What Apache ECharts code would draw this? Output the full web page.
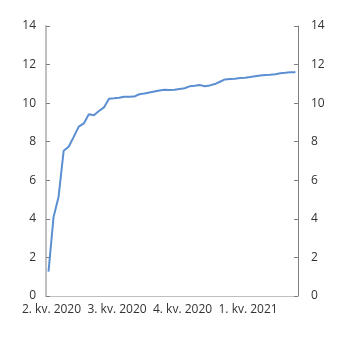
<!DOCTYPE html>
<html>
<head>
<meta charset="utf-8">
<style>
  html, body { margin: 0; padding: 0; background: #fff; }
  #chart { width: 345px; height: 341px; }
</style>
<script src="https://cdn.jsdelivr.net/npm/echarts@6/dist/echarts.min.js"></script>
</head>
<body>
<div id="chart"></div>
<script>
// Weekly observations, week 14 of 2020 onwards
const weeks = [];
for (let w = 14; w <= 53; w++) weeks.push('2020-U' + w);
for (let w = 1; w <= 10; w++) weeks.push('2021-U' + w);

const values = [
  1.26, 4.1, 5.15, 7.53, 7.74, 8.25, 8.78, 8.95, 9.42, 9.37,
  9.59, 9.78, 10.23, 10.25, 10.28, 10.33, 10.33, 10.34, 10.46, 10.5,
  10.55, 10.6, 10.65, 10.7, 10.68, 10.69, 10.73, 10.77, 10.87, 10.9,
  10.94, 10.88, 10.92, 10.99, 11.11, 11.23, 11.25, 11.27, 11.3, 11.32,
  11.35, 11.39, 11.43, 11.46, 11.47, 11.5, 11.55, 11.57, 11.6, 11.6
];

// Quarter labels placed at the first week of each quarter
const quarterLabels = { 0: '2. kv. 2020', 13: '3. kv. 2020', 26: '4. kv. 2020', 39: '1. kv. 2021' };

const yTicks = { min: 0, max: 14, interval: 2 };

const font = { fontFamily: 'Open Sans', fontSize: 12, color: '#333' };

const chart = echarts.init(document.getElementById('chart'), null, { renderer: 'canvas' });
chart.setOption({
  animation: false,
  backgroundColor: '#fff',
  grid: { left: 46, right: 47, top: 26, bottom: 45 },
  xAxis: {
    type: 'category',
    data: weeks,
    boundaryGap: true,
    axisLine: { show: true, lineStyle: { color: '#bfbfbf', width: 1 } },
    axisTick: { show: false },
    axisLabel: Object.assign({}, font, {
      interval: (i) => quarterLabels[i] !== undefined,
      formatter: (v, i) => quarterLabels[i] || '',
      margin: 8,
      padding: [0, 0, 0, 6]
    }),
    splitLine: { show: false }
  },
  yAxis: [
    {
      type: 'value',
      position: 'left',
      min: yTicks.min, max: yTicks.max, interval: yTicks.interval,
      axisLine: { show: true, lineStyle: { color: '#c0c0c0', width: 2 } },
      axisTick: { show: true, inside: true, length: 4, lineStyle: { color: '#808080', width: 1 } },
      axisLabel: Object.assign({}, font, { margin: 10 }),
      splitLine: { show: false }
    },
    {
      type: 'value',
      position: 'right',
      min: yTicks.min, max: yTicks.max, interval: yTicks.interval,
      axisLine: { show: true, lineStyle: { color: '#808080', width: 1 } },
      axisTick: { show: true, inside: true, length: 4, lineStyle: { color: '#808080', width: 1 } },
      axisLabel: Object.assign({}, font, { margin: 13 }),
      splitLine: { show: false }
    }
  ],
  series: [{
    type: 'line',
    data: values,
    yAxisIndex: 0,
    symbol: 'none',
    lineStyle: { color: '#5b8fd2', width: 2 }
  }]
});
</script>
</body>
</html>
